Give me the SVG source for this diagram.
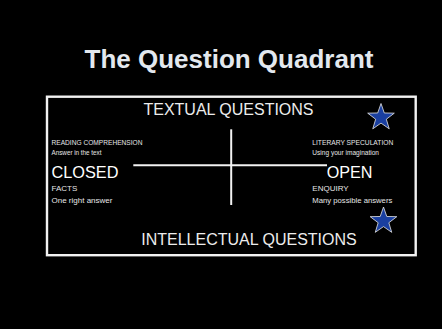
<svg xmlns="http://www.w3.org/2000/svg" width="442" height="329" viewBox="0 0 442 329">
<style>
text{font-family:"Liberation Sans",Arial,sans-serif;fill:#ffffff}
.title{font-size:26px;font-weight:bold;fill:#e3e8ee}
.axis{font-size:16px;fill:#ececec}
.big{font-size:16.5px}
.tiny{font-size:7px;fill:#e6e6e6}
.small{font-size:8px;fill:#e6e6e6}
.line{stroke:#f2f2f2;stroke-width:2;fill:none}
.star{fill:#1a3fa0;stroke:#e8e8e8;stroke-width:0.8}
</style>
<defs>
<polygon id="starShape" points="0,-14 3.29,-4.53 13.31,-4.33 5.33,1.73 8.23,11.33 0,5.6 -8.23,11.33 -5.33,1.73 -13.31,-4.33 -3.29,-4.53"/>
</defs>
<rect x="0" y="0" width="442" height="329" fill="#000000"/>
<g id="title"><text class="title" x="229" y="68" text-anchor="middle">The Question Quadrant</text></g>
<g id="frame"><rect x="47" y="96.7" width="368.7" height="158.5" fill="none" stroke="#f2f2f2" stroke-width="2.4"/></g>
<g id="connectors">
<line class="line" x1="231.2" y1="129.3" x2="231.2" y2="205"/>
<line class="line" x1="133.3" y1="165.2" x2="327" y2="165.2"/>
</g>
<g id="textual"><text class="axis" x="228.5" y="115" text-anchor="middle">TEXTUAL QUESTIONS</text></g>
<g id="intellectual"><text class="axis" x="249" y="245" text-anchor="middle">INTELLECTUAL QUESTIONS</text></g>
<g id="closed">
<text class="tiny" x="51.5" y="144.5" textLength="91" lengthAdjust="spacingAndGlyphs">READING COMPREHENSION</text>
<text class="tiny" x="51.5" y="154.5" textLength="50" lengthAdjust="spacingAndGlyphs">Answer in the text</text>
<text class="big" x="51.5" y="178.3" textLength="67" lengthAdjust="spacingAndGlyphs">CLOSED</text>
<text class="small" x="51.5" y="190.5">FACTS</text>
<text class="small" x="51.5" y="203">One right answer</text>
</g>
<g id="open">
<text class="tiny" x="312.3" y="144.5" textLength="81" lengthAdjust="spacingAndGlyphs">LITERARY SPECULATION</text>
<text class="tiny" x="312.3" y="154.5" textLength="66.7" lengthAdjust="spacingAndGlyphs">Using your imagination</text>
<text class="big" x="326.7" y="178.3" textLength="45.7" lengthAdjust="spacingAndGlyphs">OPEN</text>
<text class="small" x="312.3" y="190.5">ENQUIRY</text>
<text class="small" x="312.3" y="203" textLength="80" lengthAdjust="spacingAndGlyphs">Many possible answers</text>
</g>
<g id="star1"><use href="#starShape" class="star" transform="translate(381,117.5)"/></g>
<g id="star2"><use href="#starShape" class="star" transform="translate(383.5,221)"/></g>
</svg>
